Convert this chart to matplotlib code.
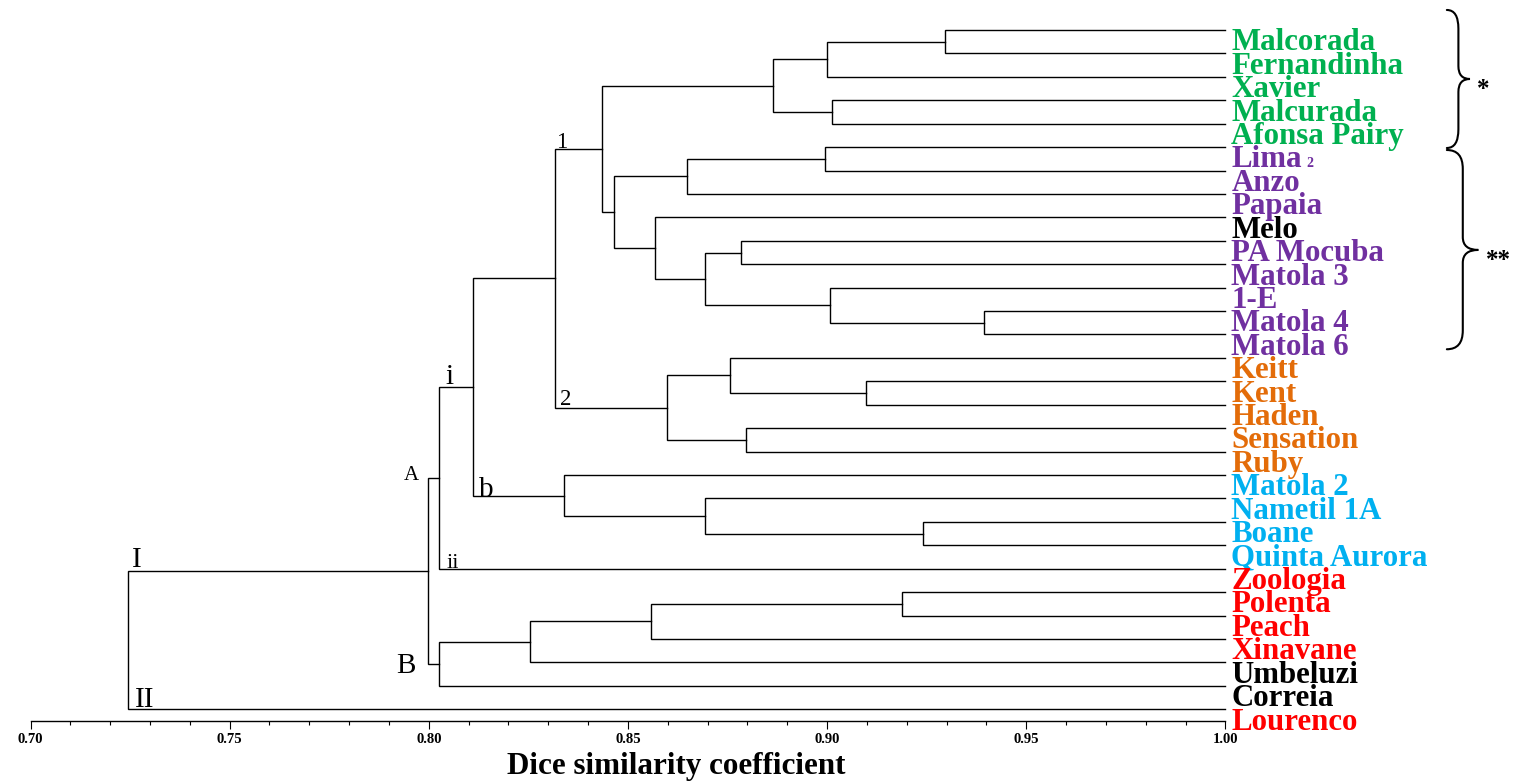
import numpy as np
import matplotlib
matplotlib.use("Agg")
import matplotlib.pyplot as plt
from matplotlib.ticker import MultipleLocator, FormatStrFormatter
from matplotlib.path import Path
from matplotlib.patches import PathPatch

plt.rcParams['font.family'] = ['Liberation Serif', 'DejaVu Serif']

# ---------------- data ----------------
leaves = ["Malcorada", "Fernandinha", "Xavier", "Malcurada", "Afonsa Pairy",
          "Lima 2", "Anzo", "Papaia", "Melo", "PA Mocuba", "Matola 3", "1-E",
          "Matola 4", "Matola 6", "Keitt", "Kent", "Haden", "Sensation", "Ruby",
          "Matola 2", "Nametil 1A", "Boane", "Quinta Aurora", "Zoologia",
          "Polenta", "Peach", "Xinavane", "Umbeluzi", "Correia", "Lourenco"]

GREEN, PURPLE, BLACK, ORANGE, CYAN, RED = ("#00B050", "#7030A0", "#000000",
                                           "#E36C09", "#00B0F0", "#FF0000")
leaf_colors = [GREEN] * 5 + [PURPLE] * 3 + [BLACK] + [PURPLE] * 5 + \
              [ORANGE] * 5 + [CYAN] * 4 + [RED] * 4 + [BLACK, BLACK, RED]

# merges: children are leaf names or indices of earlier merges
merge_left = ["Malcorada", 0, "Malcurada", 1, "Lima 2", 4, "PA Mocuba",
              "Matola 4", "1-E", 6, "Melo", 5, 3, "Kent", "Keitt", "Sensation",
              14, 12, "Boane", "Nametil 1A", "Matola 2", 17, 21, "Polenta", 23,
              24, 25, 22, 27]
merge_right = ["Fernandinha", "Xavier", "Afonsa Pairy", 2, "Anzo", "Papaia",
               "Matola 3", "Matola 6", 7, 8, 9, 10, 11, "Haden", 13, "Ruby",
               15, 16, "Quinta Aurora", 18, 19, 20, "Zoologia", "Peach",
               "Xinavane", "Umbeluzi", "Correia", 26, "Lourenco"]
merge_sim = [0.9296, 0.8999, 0.9012, 0.8865, 0.8995, 0.8649, 0.8783, 0.9395,
             0.9007, 0.8693, 0.8568, 0.8465, 0.8434, 0.9097, 0.8757, 0.8796,
             0.8598, 0.8318, 0.9240, 0.8693, 0.8339, 0.8110, 0.8025, 0.9188,
             0.8559, 0.8253, 0.8025, 0.7999, 0.7244]

x_ticks = [0.70, 0.75, 0.80, 0.85, 0.90, 0.95, 1.00]
x_label = "Dice similarity coefficient"

# ---------------- figure ----------------
W, H = 1517, 782
fig = plt.figure(figsize=(W / 100, H / 100), dpi=100)
ax = fig.add_axes([30.5 / W, 1 - 721 / H, 1194.9 / W, 721 / H])
ax.set_xlim(0.70, 1.00)
ax.set_ylim(29.5, -1.28)

node_x = {name: 1.0 for name in leaves}
node_y = {name: float(i) for i, name in enumerate(leaves)}
for k, (a, b, s) in enumerate(zip(merge_left, merge_right, merge_sim)):
    xa, ya = node_x[a], node_y[a]
    xb, yb = node_x[b], node_y[b]
    ax.plot([xa, s, s, xb], [ya, ya, yb, yb], color="black", lw=1.0,
            solid_joinstyle="miter", clip_on=False)
    node_x[k] = s
    node_y[k] = (ya + yb) / 2

# leaf labels (drawn half a row below their lines, as in the original)
fig.canvas.draw()
renderer = fig.canvas.get_renderer()
for i, (name, col) in enumerate(zip(leaves, leaf_colors)):
    main, small = name, None
    if name == "Lima 2":
        main, small = "Lima", "2"
    t = ax.annotate(main, xy=(1.0, i), xytext=(4.3, -14.6),
                    textcoords="offset points", ha="left", va="baseline",
                    fontsize=22.2, fontweight="bold", color=col,
                    annotation_clip=False)
    if small:
        bb = t.get_window_extent(renderer)
        ax.annotate(small, xy=(1.0, i), xytext=(4.3 + bb.width * 0.72 + 3.0, -14.6),
                    textcoords="offset points", ha="left", va="baseline",
                    fontsize=10, fontweight="bold", color=col,
                    annotation_clip=False)

# cluster annotations
annots = [("I", 0.7255, 22.93, 21), ("II", 0.7262, 28.90, 21),
          ("A", 0.7938, 19.21, 15), ("B", 0.7918, 27.45, 21),
          ("i", 0.8041, 15.12, 21), ("b", 0.8126, 19.94, 21),
          ("ii", 0.8044, 22.98, 16), ("1", 0.8319, 5.04, 16.5),
          ("2", 0.8330, 16.01, 16.5)]
for txt, x, y, fs in annots:
    ax.text(x, y, txt, fontsize=fs, ha="left", va="baseline", clip_on=False)

# braces
def brace(x0, xm, xt, ytop, ybot, yc, r=0.8, r2=0.55):
    verts = [(x0, ytop), (xm, ytop), (xm, ytop + r),
             (xm, yc - r2), (xm, yc), (xt, yc),
             (xm, yc), (xm, yc + r2),
             (xm, ybot - r), (xm, ybot), (x0, ybot)]
    codes = [Path.MOVETO, Path.CURVE3, Path.CURVE3,
             Path.LINETO, Path.CURVE3, Path.CURVE3,
             Path.CURVE3, Path.CURVE3,
             Path.LINETO, Path.CURVE3, Path.CURVE3]
    p = PathPatch(Path(verts, codes), facecolor="none", edgecolor="black",
                  lw=1.5, clip_on=False, capstyle="round")
    ax.add_patch(p)

brace(1.0556, 1.0585, 1.0614, -0.854, 5.038, 2.092)
brace(1.0556, 1.0596, 1.0635, 5.124, 13.63, 9.39)
ax.text(1.0647, 2.45, "*", fontsize=18, fontweight="bold", ha="center",
        va="center_baseline", clip_on=False)
ax.text(1.0686, 9.72, "**", fontsize=18, fontweight="bold", ha="center",
        va="center_baseline", clip_on=False)

# axis styling
for sp in ["top", "left", "right"]:
    ax.spines[sp].set_visible(False)
ax.spines["bottom"].set_linewidth(1.0)
ax.set_yticks([])
ax.set_xticks(x_ticks)
ax.xaxis.set_minor_locator(MultipleLocator(0.01))
ax.xaxis.set_major_formatter(FormatStrFormatter("%.2f"))
ax.tick_params(axis="x", which="major", length=5.8, width=0.8, pad=3.0,
               labelsize=10.5, direction="out")
ax.tick_params(axis="x", which="minor", length=3.2, width=0.8, direction="out")
for lab in ax.get_xticklabels():
    lab.set_fontweight("bold")
ax.set_xlabel(x_label, fontsize=22.4, fontweight="bold", labelpad=4)
ax.xaxis.set_label_coords(0.5406, -0.0425, transform=ax.transAxes)
ax.xaxis.label.set_va("top")

fig.savefig("out.png", dpi=100)
